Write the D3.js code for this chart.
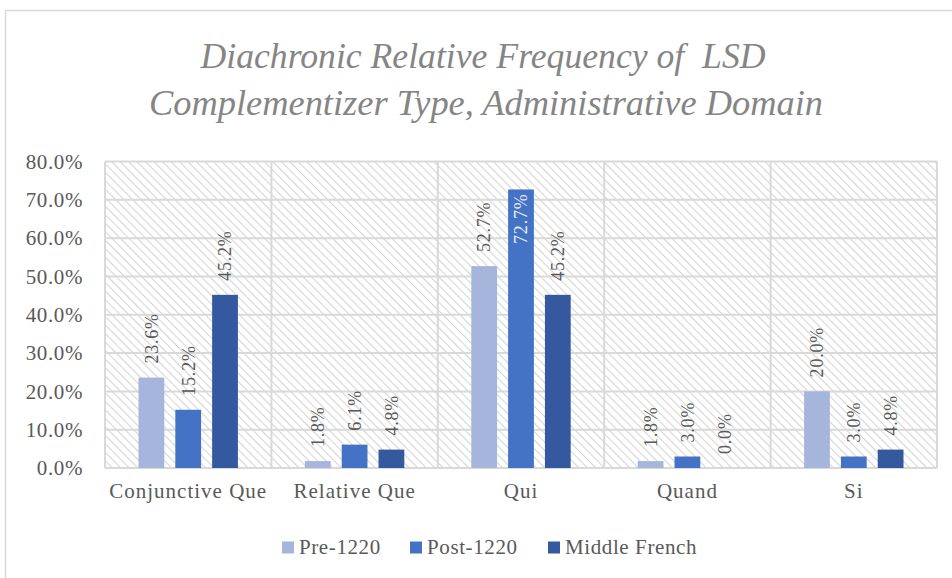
<!DOCTYPE html>
<html><head><meta charset="utf-8">
<script src="https://cdn.jsdelivr.net/npm/d3@7"></script>
<style>body{margin:0;background:#fff}svg{display:block}text{font-family:"Liberation Serif","DejaVu Serif",serif}.ttl{white-space:pre}</style>
</head><body><svg id="c" width="952" height="578"></svg>
<script>
const categories = ["Conjunctive Que","Relative Que","Qui","Quand","Si"];
const seriesNames = ["Pre-1220","Post-1220","Middle French"];
const pre1220 = [23.6, 1.8, 52.7, 1.8, 20.0];
const post1220 = [15.2, 6.1, 72.7, 3.0, 3.0];
const middleFrench = [45.2, 4.8, 45.2, 0.0, 4.8];
const yTicks = [0,10,20,30,40,50,60,70,80];
const colors = ["#A6B5DB","#4472C4","#34599F"];
const titleLines = ["Diachronic Relative Frequency of  LSD","Complementizer Type, Administrative Domain"];

const series = [pre1220, post1220, middleFrench];
const svg = d3.select("#c");
const m = {l:105, r:937, t:161.5, b:468};

// outer frame
svg.append("rect").attr("x",5.5).attr("y",10.5).attr("width",960).attr("height",600)
  .attr("fill","#fff").attr("stroke","#d9d9d9").attr("stroke-width",1.5);

// hatch pattern (top-left to bottom-right)
const defs = svg.append("defs");
const pat = defs.append("pattern").attr("id","hatch").attr("patternUnits","userSpaceOnUse")
  .attr("width",6).attr("height",6).attr("patternTransform","rotate(-45)");
pat.append("rect").attr("width",6).attr("height",6).attr("fill","#fff");
pat.append("line").attr("x1",0).attr("y1",0).attr("x2",0).attr("y2",6).attr("stroke","#d6d6d6").attr("stroke-width",2.2);

const x = d3.scaleBand().domain(categories).range([m.l,m.r]).padding(0);
const xi = d3.scaleBand().domain(d3.range(3)).range([33.5, x.bandwidth()-33.5]).paddingInner(0.3);
const y = d3.scaleLinear().domain([0,80]).range([m.b,m.t]);

svg.append("rect").attr("x",m.l).attr("y",m.t).attr("width",m.r-m.l).attr("height",m.b-m.t).attr("fill","url(#hatch)");

// gridlines
svg.append("g").selectAll("line").data(yTicks).join("line")
  .attr("x1",m.l).attr("x2",m.r).attr("y1",d=>y(d)).attr("y2",d=>y(d))
  .attr("stroke","#d9d9d9").attr("stroke-width",2);
const seps = categories.map(c=>x(c)).concat([m.r]);
svg.append("g").selectAll("line").data(seps).join("line")
  .attr("x1",d=>d).attr("x2",d=>d).attr("y1",m.t).attr("y2",m.b)
  .attr("stroke","#d9d9d9").attr("stroke-width",2);

// y axis labels
const yAxis = d3.axisLeft(y).tickValues(yTicks).tickFormat(d=>d.toFixed(1)+"%").tickSize(0).tickPadding(0);
const ya = svg.append("g").attr("transform",`translate(83,0)`).call(yAxis);
ya.select(".domain").remove();
ya.selectAll("text").attr("font-size",21).attr("letter-spacing",0.6).attr("fill","#595959").attr("font-family",null);

// x axis labels
const xAxis = d3.axisBottom(x).tickSize(0).tickPadding(0);
const xa = svg.append("g").attr("transform",`translate(0,483)`).call(xAxis);
xa.select(".domain").remove();
xa.selectAll("text").attr("font-size",21).attr("letter-spacing",1.0).attr("fill","#595959").attr("font-family",null);

// bars
series.forEach((vals,si)=>{
  const g = svg.append("g");
  g.selectAll("rect").data(vals).join("rect")
    .attr("x",(d,i)=>x(categories[i])+xi(si)).attr("width",xi.bandwidth())
    .attr("y",d=>y(d)).attr("height",d=>y(0)-y(d))
    .attr("fill",colors[si]);
  g.selectAll("text").data(vals).join("text")
    .each(function(d,i){
      const cx = x(categories[i])+xi(si)+xi.bandwidth()/2;
      const inside = y(d) - 14 - 55 < m.t;
      const ty = inside ? y(d)+4 : y(d)-14;
      d3.select(this).attr("transform",`translate(${cx},${ty}) rotate(-90)`)
        .attr("text-anchor", inside ? "end" : "start")
        .attr("dy","0.35em")
        .attr("font-size",18).attr("letter-spacing",0.8)
        .attr("fill", inside ? "#e8ecf6" : "#595959")
        .text(d.toFixed(1)+"%");
    });
});

// title
const tt = svg.append("g");
tt.append("text").attr("class","ttl").attr("x",483).attr("y",68).attr("text-anchor","middle")
  .attr("font-size",36).attr("font-style","italic").attr("fill","#858585")
  .attr("textLength",565).attr("lengthAdjust","spacingAndGlyphs").text(titleLines[0]);
tt.append("text").attr("class","ttl").attr("x",486).attr("y",115).attr("text-anchor","middle")
  .attr("font-size",36).attr("font-style","italic").attr("fill","#858585")
  .attr("textLength",674).attr("lengthAdjust","spacingAndGlyphs").text(titleLines[1]);

// legend
const legX = [282, 410, 548];
const lg = svg.append("g");
seriesNames.forEach((n,i)=>{
  lg.append("rect").attr("x",legX[i]).attr("y",541.5).attr("width",12).attr("height",12).attr("fill",colors[i]);
  lg.append("text").attr("x",legX[i]+17).attr("y",554).attr("font-size",21).attr("letter-spacing",0.6).attr("fill","#595959").text(n);
});
</script></body></html>
